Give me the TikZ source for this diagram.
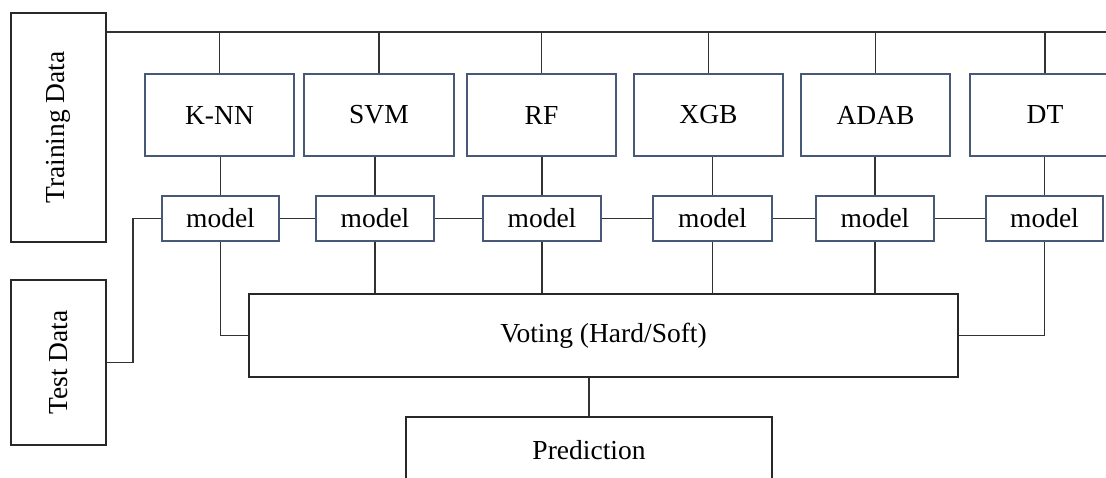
\documentclass[tikz,border=0pt]{standalone}
\usepackage{fontspec}
\setmainfont{Liberation Serif}
\definecolor{slateedge}{RGB}{72,88,118}
\definecolor{darkedge}{RGB}{40,40,40}
\definecolor{wire}{RGB}{50,50,50}
\tikzset{
  base/.style={draw, fill=white, inner sep=0pt, line width=1.2pt,
    font=\fontsize{27.5}{32}\selectfont, align=center},
  databox/.style={base, draw=darkedge},
  algbox/.style={base, draw=slateedge, minimum width=149pt, minimum height=82pt},
  modelbox/.style={base, draw=slateedge, minimum height=45pt},
  link/.style={draw=wire, line width=1.2pt}
}
\begin{document}
\begin{tikzpicture}[x=1pt,y=-1pt]
\clip (0,0) rectangle (1106,477);

% data sources
\node[databox, minimum width=95pt, minimum height=229pt] (train) at (58.5,127.5)
  {\rotatebox{90}{Training Data}};
\node[databox, minimum width=95pt, minimum height=165pt] (test) at (58.5,362.5)
  {\rotatebox{90}{Test Data}};

% base learners
\node[algbox] (knn)  at (219.5,115) {K-NN};
\node[algbox, minimum width=150pt] (svm) at (379,115) {SVM};
\node[algbox] (rf)   at (541.5,115) {RF};
\node[algbox] (xgb)  at (708.5,115) {XGB};
\node[algbox] (adab) at (875.5,115) {ADAB};
\node[algbox, minimum width=150pt] (dt) at (1045,115) {DT};

% trained models
\node[modelbox, minimum width=117pt] (m1) at (220.5,218.5) {model};
\node[modelbox, minimum width=118pt] (m2) at (375,218.5) {model};
\node[modelbox, minimum width=118pt] (m3) at (542,218.5) {model};
\node[modelbox, minimum width=119pt] (m4) at (712.5,218.5) {model};
\node[modelbox, minimum width=118pt] (m5) at (875,218.5) {model};
\node[modelbox, minimum width=117pt] (m6) at (1044.5,218.5) {model};

% ensemble and output
\node[databox, minimum width=709pt, minimum height=83pt] (vote) at (603.5,335.5)
  {Voting (Hard/Soft)};
\node[databox, minimum width=366pt, minimum height=66pt] (pred) at (589,450)
  {Prediction};

% training bus
\coordinate (busR) at (1106,32);
\draw[link] (train.east |- busR) -- (busR);
\foreach \a in {knn,svm,rf,xgb,adab,dt}
  \draw[link] (\a.north) -- (\a.north |- busR);

% learner -> model
\foreach \a/\m in {knn/m1,svm/m2,rf/m3,xgb/m4,adab/m5,dt/m6}
  \draw[link] (\m.north) -- (\m.north |- \a.south);

% test data feed along the model row
\coordinate (tj) at (133,362.5);
\draw[link] (test.east) -- (tj) |- (m1.west);
\draw[link] (m1.east) -- (m2.west);
\draw[link] (m2.east) -- (m3.west);
\draw[link] (m3.east) -- (m4.west);
\draw[link] (m4.east) -- (m5.west);
\draw[link] (m5.east) -- (m6.west);

% model outputs -> voting
\draw[link] (m1.south) |- (vote.west);
\foreach \m in {m2,m3,m4,m5}
  \draw[link] (\m.south) -- (\m.south |- vote.north);
\draw[link] (m6.south) |- (vote.east);

% voting -> prediction
\draw[link] (pred.north) -- (pred.north |- vote.south);
\end{tikzpicture}
\end{document}
